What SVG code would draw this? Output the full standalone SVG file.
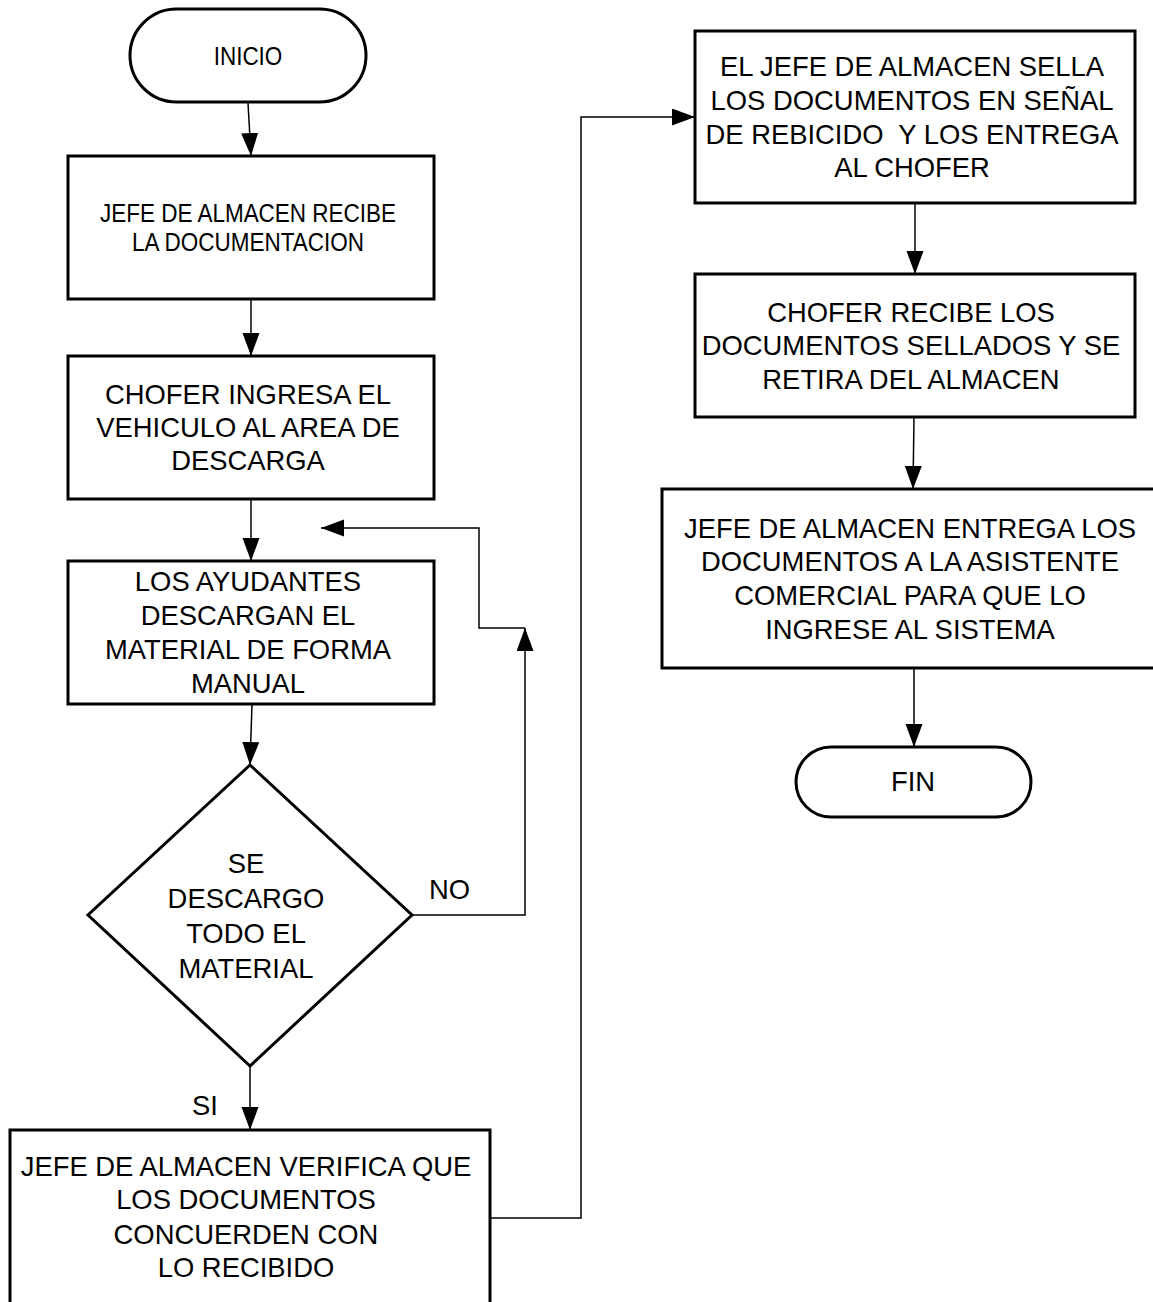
<svg xmlns="http://www.w3.org/2000/svg" width="1153" height="1302" viewBox="0 0 1153 1302">
<defs>
<style>
.box{fill:#fff;stroke:#000;stroke-width:3}
.conn{fill:none;stroke:#000;stroke-width:1.5}
text{font-family:"Liberation Sans",Arial,sans-serif;fill:#000}
.t{font-size:27.4px;text-anchor:middle}
.s{font-size:25px;text-anchor:middle}
.lbl{font-size:27.4px}
</style>
<marker id="arr" markerUnits="userSpaceOnUse" markerWidth="24" markerHeight="18" refX="23" refY="8.5" orient="auto">
<path d="M0,0 L23,8.5 L0,17 z" fill="#000"/>
</marker>
</defs>
<rect width="1153" height="1302" fill="#fff"/>

<g id="connectors">
<line class="conn" x1="248" y1="103" x2="251" y2="156" marker-end="url(#arr)"/>
<line class="conn" x1="251" y1="299" x2="251" y2="356" marker-end="url(#arr)"/>
<line class="conn" x1="251" y1="499" x2="251" y2="561" marker-end="url(#arr)"/>
<line class="conn" x1="252" y1="704" x2="250" y2="765" marker-end="url(#arr)"/>
<line class="conn" x1="250" y1="1066" x2="250" y2="1130" marker-end="url(#arr)"/>
<path class="conn" d="M412,915 H525 V628" marker-end="url(#arr)"/>
<path class="conn" d="M525,628 H479 V528 H321" marker-end="url(#arr)"/>
<path class="conn" d="M490,1218 H581 V117 H695" marker-end="url(#arr)"/>
<line class="conn" x1="915" y1="203" x2="915" y2="274" marker-end="url(#arr)"/>
<line class="conn" x1="914" y1="417" x2="913" y2="489" marker-end="url(#arr)"/>
<line class="conn" x1="914" y1="668" x2="914" y2="747" marker-end="url(#arr)"/>
<text class="lbl" x="429" y="899">NO</text>
<text class="lbl" x="192" y="1115">SI</text>
</g>

<g id="inicio">
<rect class="box" x="130" y="9" width="236" height="93" rx="46.5"/>
<text class="s" transform="translate(248,0) scale(0.9,1)" x="0" y="65">INICIO</text>
</g>

<g id="recibe-documentacion">
<rect class="box" x="68" y="156" width="366" height="143"/>
<g transform="translate(248,0) scale(0.9,1)">
<text class="s" x="0" y="222">JEFE DE ALMACEN RECIBE</text>
<text class="s" x="0" y="251">LA DOCUMENTACION</text>
</g>
</g>

<g id="chofer-ingresa">
<rect class="box" x="68" y="356" width="366" height="143"/>
<text class="t" x="248" y="404">CHOFER INGRESA EL</text>
<text class="t" x="248" y="437">VEHICULO AL AREA DE</text>
<text class="t" x="248" y="470">DESCARGA</text>
</g>

<g id="ayudantes-descargan">
<rect class="box" x="68" y="561" width="366" height="143"/>
<text class="t" x="248" y="591">LOS AYUDANTES</text>
<text class="t" x="248" y="625">DESCARGAN EL</text>
<text class="t" x="248" y="659">MATERIAL DE FORMA</text>
<text class="t" x="248" y="693">MANUAL</text>
</g>

<g id="decision">
<polygon class="box" points="250,765 412,915 250,1066 88,915"/>
<text class="t" x="246" y="873">SE</text>
<text class="t" x="246" y="908">DESCARGO</text>
<text class="t" x="246" y="943">TODO EL</text>
<text class="t" x="246" y="978">MATERIAL</text>
</g>

<g id="verifica">
<rect class="box" x="10" y="1130" width="480" height="200"/>
<text class="t" x="246" y="1176">JEFE DE ALMACEN VERIFICA QUE</text>
<text class="t" x="246" y="1209">LOS DOCUMENTOS</text>
<text class="t" x="246" y="1244">CONCUERDEN CON</text>
<text class="t" x="246" y="1277">LO RECIBIDO</text>
</g>

<g id="sella">
<rect class="box" x="695" y="31" width="440" height="172"/>
<text class="t" x="912" y="76">EL JEFE DE ALMACEN SELLA</text>
<text class="t" x="912" y="110">LOS DOCUMENTOS EN SEÑAL</text>
<text class="t" x="912" y="144" xml:space="preserve">DE REBICIDO  Y LOS ENTREGA</text>
<text class="t" x="912" y="177">AL CHOFER</text>
</g>

<g id="chofer-recibe">
<rect class="box" x="695" y="274" width="440" height="143"/>
<text class="t" x="911" y="322">CHOFER RECIBE LOS</text>
<text class="t" x="911" y="355">DOCUMENTOS SELLADOS Y SE</text>
<text class="t" x="911" y="389">RETIRA DEL ALMACEN</text>
</g>

<g id="entrega-asistente">
<rect class="box" x="662" y="489" width="500" height="179"/>
<text class="t" x="910" y="538">JEFE DE ALMACEN ENTREGA LOS</text>
<text class="t" x="910" y="571">DOCUMENTOS A LA ASISTENTE</text>
<text class="t" x="910" y="605">COMERCIAL PARA QUE LO</text>
<text class="t" x="910" y="639">INGRESE AL SISTEMA</text>
</g>

<g id="fin">
<rect class="box" x="796" y="747" width="235" height="70" rx="35"/>
<text class="t" x="913" y="791">FIN</text>
</g>
</svg>
